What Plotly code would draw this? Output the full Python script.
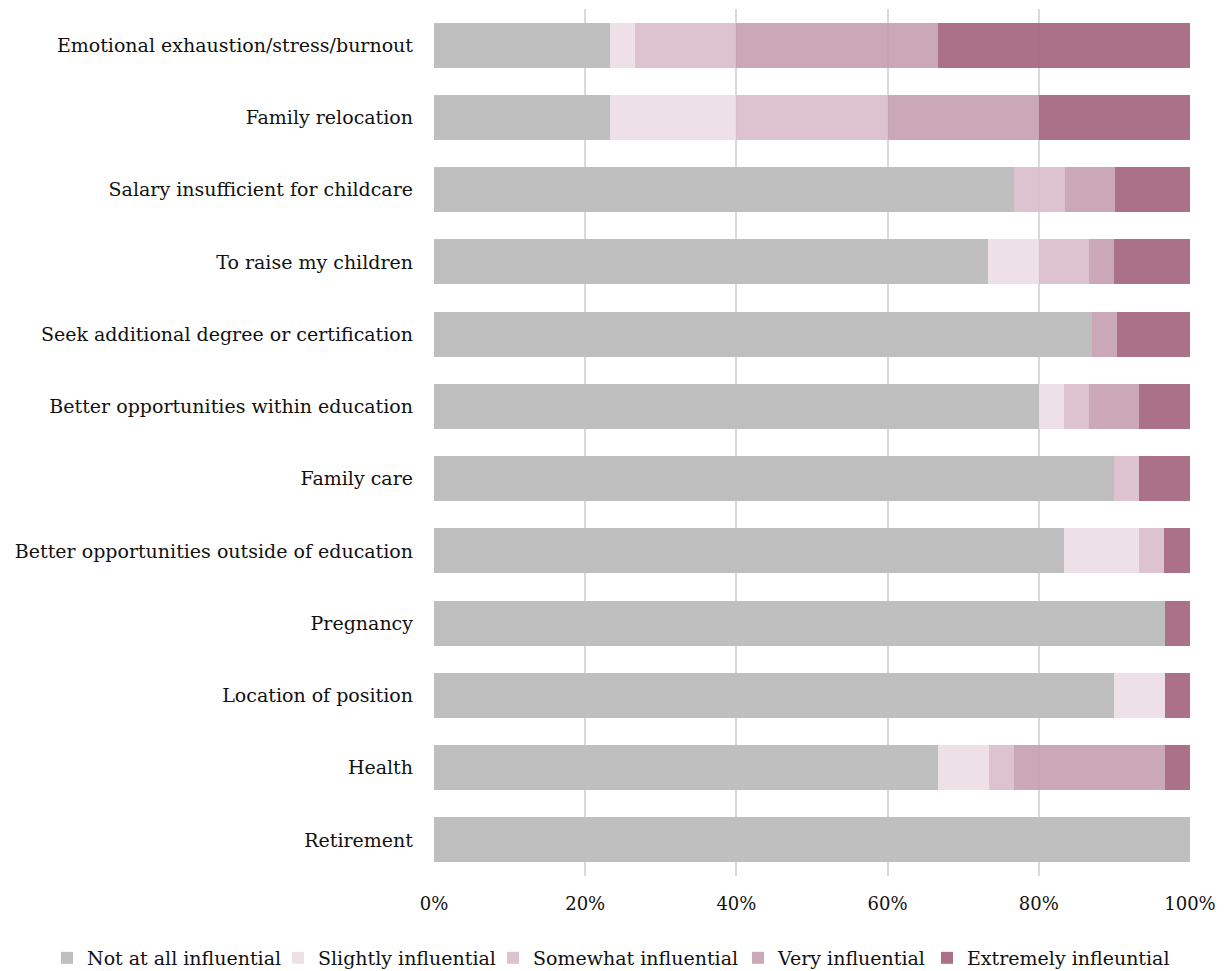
import plotly.graph_objects as go

categories = [
    "Emotional exhaustion/stress/burnout",
    "Family relocation",
    "Salary insufficient for childcare",
    "To raise my children",
    "Seek additional degree or certification",
    "Better opportunities within education",
    "Family care",
    "Better opportunities outside of education",
    "Pregnancy",
    "Location of position",
    "Health",
    "Retirement",
]

not_at_all = [23.3, 23.3, 76.7, 73.3, 87.1, 80.0, 90.0, 83.3, 96.7, 90.0, 66.7, 100.0]
slightly   = [3.3, 16.7, 0.0, 6.7, 0.0, 3.3, 0.0, 10.0, 0.0, 6.7, 6.7, 0.0]
somewhat   = [13.3, 20.0, 6.7, 6.7, 0.0, 3.3, 3.3, 3.3, 0.0, 0.0, 3.3, 0.0]
very       = [26.7, 20.0, 6.7, 3.3, 3.2, 6.7, 0.0, 0.0, 0.0, 0.0, 20.0, 0.0]
extremely  = [33.4, 20.0, 9.9, 10.0, 9.7, 6.7, 6.7, 3.4, 3.3, 3.3, 3.3, 0.0]

series_names = ["Not at all influential", "Slightly influential", "Somewhat influential",
                "Very influential", "Extremely infleuntial"]
series_values = [not_at_all, slightly, somewhat, very, extremely]
colors = ["rgb(191,191,191)", "rgba(235,222,228,0.9)", "rgba(217,189,202,0.9)",
          "rgba(197,158,176,0.9)", "rgba(162,98,124,0.9)"]

tick_vals = [0, 20, 40, 60, 80, 100]
tick_text = ["0%", "20%", "40%", "60%", "80%", "100%"]

FONT = "DejaVu Serif"
W, H = 1218, 963
legend_left_px = [39, 270, 485, 730, 919]

fig = go.Figure()
legend_ids = ["legend", "legend2", "legend3", "legend4", "legend5"]
for name, vals, col, lid in zip(series_names, series_values, colors, legend_ids):
    fig.add_trace(go.Bar(
        y=categories, x=vals, name=name, orientation="h", showlegend=True,
        marker=dict(color=col, line=dict(width=0)), legend=lid,
    ))

legend_layouts = {}
for lid, lx in zip(legend_ids, legend_left_px):
    legend_layouts[lid] = dict(
        orientation="h", xref="container", x=lx / W, xanchor="left",
        yref="container", y=(H - 950) / H, yanchor="middle",
        font=dict(family=FONT, size=19, color="#111"), itemwidth=30,
        bgcolor="rgba(0,0,0,0)",
    )

fig.update_layout(
    showlegend=True,
    barmode="stack",
    bargap=0.38,
    width=W, height=H,
    margin=dict(l=426, r=36, t=1, b=95, autoexpand=False),
    paper_bgcolor="white", plot_bgcolor="white",
    font=dict(family=FONT, size=18, color="#111"),
    xaxis=dict(range=[0, 100], tickvals=tick_vals, ticktext=tick_text,
               showgrid=True, gridcolor="#d9d9d9", gridwidth=2,
               zeroline=False, showline=False, ticks="", automargin=False,
               ticklabelstandoff=15,
               tickfont=dict(family=FONT, size=18)),
    yaxis=dict(categoryorder="array", categoryarray=categories, autorange="reversed",
               showgrid=False, ticks="", automargin=False, ticklabelstandoff=20,
               tickfont=dict(family=FONT, size=19)),
    **legend_layouts,
)

fig.write_html("out.html")
